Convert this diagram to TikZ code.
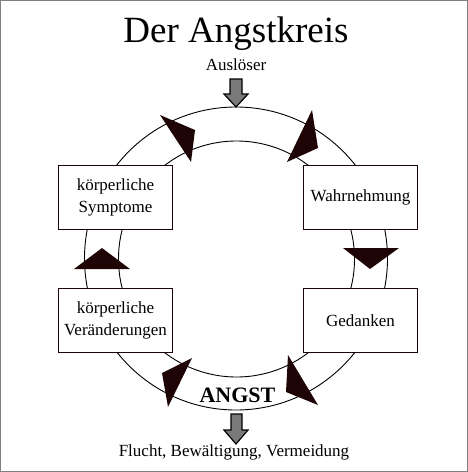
\documentclass[tikz,border=0pt]{standalone}
\usepackage{fontspec}
\setmainfont{Liberation Serif}
\definecolor{dunkel}{HTML}{1E0404}
\tikzset{
  kasten/.style={draw=dunkel, line width=1.6pt, fill=white, minimum width=114pt, minimum height=64pt, align=center, inner sep=0pt, font=\fontsize{17}{21.5}\selectfont},
  spitze/.style={fill=dunkel},
  blockpfeil/.style={draw=black, line width=1.2pt, fill=gray!95!black, line join=miter},
  text17/.style={font=\fontsize{17}{20}\selectfont, anchor=base}
}
\begin{document}
\begin{tikzpicture}[x=1pt, y=-1pt]
            \useasboundingbox (0,0) rectangle (468,472);
            \fill [white] (0,0) rectangle (468,472);
            \draw [gray, line width=1pt] (0.5,0.5) rectangle (467.5,471.5);
            \node [anchor=base, font=\fontsize{37}{40}\selectfont] (titel) at (236,42) {Der Angstkreis};
            \node [text17] (ausloeser) at (236,70) {Auslöser};
            \draw [blockpfeil] (230,79) -- (242,79) -- (242,94) -- (248,94) -- (236,107) -- (224,94) -- (230,94) -- cycle;
            \draw [line width=0.9pt] (236,258.5) circle [radius=151.5pt];
            \draw [line width=0.9pt] (236.5,259) circle [radius=118pt];
            \node [kasten] (symptome) at (115.5,197.5) {körperliche\\Symptome};
            \node [kasten] (veraenderungen) at (115.5,320.5) {körperliche\\Veränderungen};
            \node [kasten] (wahrnehmung) at (360.5,197.5) {Wahrnehmung};
            \node [kasten] (gedanken) at (360.5,320.5) {Gedanken};
            \fill [spitze] (160,115) -- (195,130) -- (191,162) -- cycle;
            \fill [spitze] (312,110) -- (318,148) -- (287,162) -- cycle;
            \fill [spitze] (343,248) -- (399,248) -- (370,269) -- cycle;
            \fill [spitze] (74,269) -- (130,269) -- (102,248) -- cycle;
            \fill [spitze] (192,358) -- (162,373) -- (168,407) -- cycle;
            \fill [spitze] (288,355) -- (286,392) -- (318,405) -- cycle;
            \node [anchor=base, font=\fontsize{22}{24}\selectfont\bfseries] (angst) at (237.5,402) {ANGST};
            \draw [blockpfeil] (231,414) -- (242,414) -- (242,430) -- (248,430) -- (236,444) -- (224,430) -- (231,430) -- cycle;
            \node [text17] (flucht) at (234,456) {Flucht, Bewältigung, Vermeidung};
        \end{tikzpicture}
\end{document}
